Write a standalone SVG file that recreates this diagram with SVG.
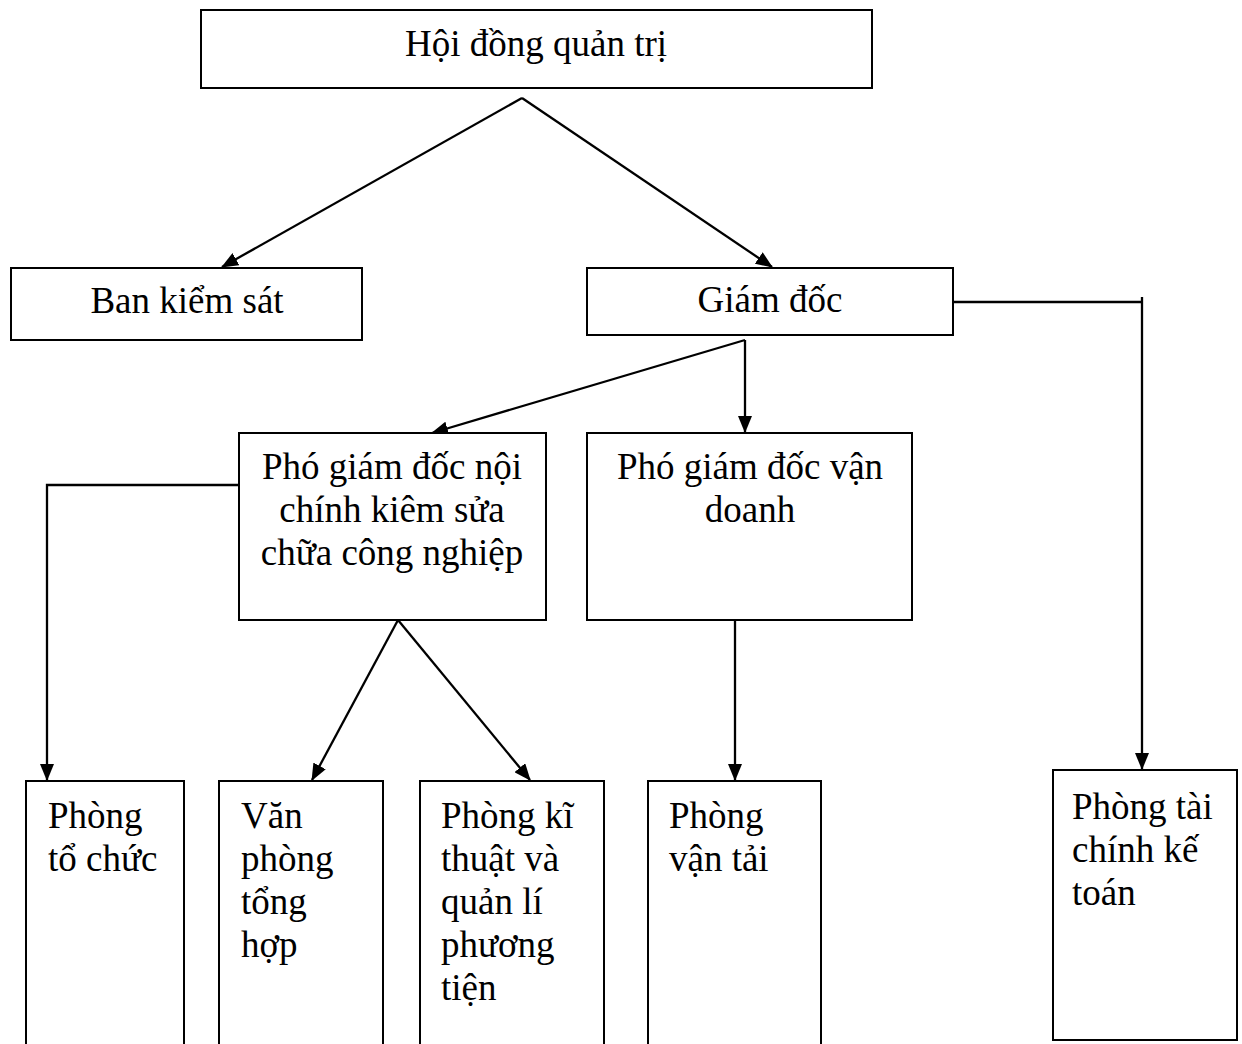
<svg xmlns="http://www.w3.org/2000/svg" width="1242" height="1044" viewBox="0 0 1242 1044">
  <style>
    .box { fill: #ffffff; stroke: #000000; stroke-width: 2; }
    .lbl { font-family: "Liberation Serif", "Times New Roman", serif; font-size: 37px; fill: #000000; }
    .c { text-anchor: middle; }
    .edge { fill: none; stroke: #000000; stroke-width: 2.3; }
  </style>
  <defs>
    <!-- filled triangular arrowhead shared by all connectors -->
    <marker id="arrow" markerWidth="17" markerHeight="14" refX="16" refY="7" orient="auto" markerUnits="userSpaceOnUse">
      <path d="M0,0 L17,7 L0,14 Z" fill="#000000"/>
    </marker>
  </defs>
  <rect width="1242" height="1044" fill="#ffffff"/>

  <g id="connectors">
    <line class="edge" x1="522" y1="98" x2="222" y2="267" marker-end="url(#arrow)"/>
    <line class="edge" x1="522" y1="98" x2="772" y2="267" marker-end="url(#arrow)"/>
    <line class="edge" x1="745" y1="340" x2="432" y2="433" marker-end="url(#arrow)"/>
    <line class="edge" x1="745" y1="340" x2="745" y2="432" marker-end="url(#arrow)"/>
    <polyline class="edge" points="953,302 1142,302"/>
    <line class="edge" x1="1142" y1="297" x2="1142" y2="769" marker-end="url(#arrow)"/>
    <polyline class="edge" points="239,485 47,485 47,780" marker-end="url(#arrow)"/>
    <line class="edge" x1="398" y1="620" x2="312" y2="780" marker-end="url(#arrow)"/>
    <line class="edge" x1="398" y1="620" x2="530" y2="780" marker-end="url(#arrow)"/>
    <line class="edge" x1="735" y1="620" x2="735" y2="780" marker-end="url(#arrow)"/>
  </g>

  <g id="hoi-dong-quan-tri">
    <rect class="box" x="201" y="10" width="671" height="78"/>
    <text class="lbl c" x="536" y="56">Hội đồng quản trị</text>
  </g>
  <g id="ban-kiem-sat">
    <rect class="box" x="11" y="268" width="351" height="72"/>
    <text class="lbl c" x="187" y="313">Ban kiểm sát</text>
  </g>
  <g id="giam-doc">
    <rect class="box" x="587" y="268" width="366" height="67"/>
    <text class="lbl c" x="770" y="312">Giám đốc</text>
  </g>
  <g id="pho-giam-doc-noi-chinh">
    <rect class="box" x="239" y="433" width="307" height="187"/>
    <text class="lbl c" x="392" y="479">Phó giám đốc nội</text>
    <text class="lbl c" x="392" y="522">chính kiêm sửa</text>
    <text class="lbl c" x="392" y="565">chữa công nghiệp</text>
  </g>
  <g id="pho-giam-doc-van-doanh">
    <rect class="box" x="587" y="433" width="325" height="187"/>
    <text class="lbl c" x="750" y="479">Phó giám đốc vận</text>
    <text class="lbl c" x="750" y="522">doanh</text>
  </g>
  <g id="phong-to-chuc">
    <rect class="box" x="26" y="781" width="158" height="280"/>
    <text class="lbl" x="48" y="828">Phòng</text>
    <text class="lbl" x="48" y="871">tổ chức</text>
  </g>
  <g id="van-phong-tong-hop">
    <rect class="box" x="219" y="781" width="164" height="280"/>
    <text class="lbl" x="241" y="828">Văn</text>
    <text class="lbl" x="241" y="871">phòng</text>
    <text class="lbl" x="241" y="914">tổng</text>
    <text class="lbl" x="241" y="957">hợp</text>
  </g>
  <g id="phong-ki-thuat">
    <rect class="box" x="420" y="781" width="184" height="280"/>
    <text class="lbl" x="441" y="828">Phòng kĩ</text>
    <text class="lbl" x="441" y="871">thuật và</text>
    <text class="lbl" x="441" y="914">quản lí</text>
    <text class="lbl" x="441" y="957">phương</text>
    <text class="lbl" x="441" y="1000">tiện</text>
  </g>
  <g id="phong-van-tai">
    <rect class="box" x="648" y="781" width="173" height="280"/>
    <text class="lbl" x="669" y="828">Phòng</text>
    <text class="lbl" x="669" y="871">vận tải</text>
  </g>
  <g id="phong-tai-chinh-ke-toan">
    <rect class="box" x="1053" y="770" width="184" height="270"/>
    <text class="lbl" x="1072" y="819">Phòng tài</text>
    <text class="lbl" x="1072" y="862">chính kế</text>
    <text class="lbl" x="1072" y="905">toán</text>
  </g>
</svg>
